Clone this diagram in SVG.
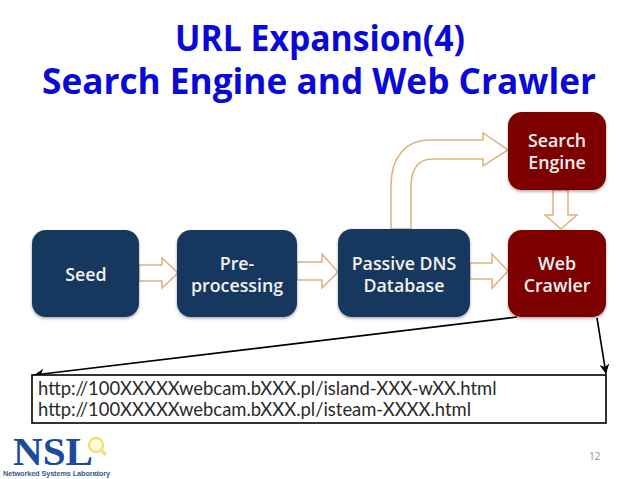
<svg xmlns="http://www.w3.org/2000/svg" width="638" height="479" viewBox="0 0 638 479">
<style>
.title{font:700 35px "Open Sans","Liberation Sans",sans-serif;fill:#0a0ad8;text-anchor:middle}
.lbl{font:600 17.8px "Open Sans","Liberation Sans",sans-serif;fill:#f4f0ee;text-anchor:middle}
.blue{fill:#17375e}
.red{fill:#7b0000}
.fat{fill:#fff;stroke:#e0b27c;stroke-width:1.5}
.wire{fill:none;stroke:#000;stroke-width:1.6}
.url{font:400 18.4px "Lato","Liberation Sans",sans-serif;fill:#2a2a2a}
</style>
<defs>
<filter id="sh" x="-10%" y="-10%" width="120%" height="125%"><feDropShadow dx="0" dy="1.5" stdDeviation="1.5" flood-color="#000" flood-opacity=".35"/></filter>
<marker id="ah" markerWidth="12" markerHeight="12" refX="10" refY="5" orient="auto" markerUnits="userSpaceOnUse"><path d="M0 0L10 5L0 10L3 5Z" fill="#000"/></marker>
</defs>
<rect width="638" height="479" fill="#fff"/>
<g id="title">
<text class="title" x="320" y="51" textLength="290" lengthAdjust="spacingAndGlyphs">URL Expansion(4)</text>
<text class="title" x="319" y="94" textLength="554" lengthAdjust="spacingAndGlyphs">Search Engine and Web Crawler</text>
</g>
<g id="connectors">
<path class="fat" d="M139 265H162V258L178 273L162 288V281H139Z"/>
<path class="fat" d="M297 262H322V254L338 272L322 288V280H297Z"/>
<path class="fat" d="M470 263H492V254L508 271L492 288V279H470Z"/>
<path class="fat" d="M553 190H568V215H577L561 229L545 215H553Z"/>
<path class="fat" d="M391 229V186C391 158 405 140 430 140H483V133L508 150L483 166V159H432C418 159 411 170 411 186V229Z"/>
<path class="wire" marker-end="url(#ah)" d="M517 317L34 375"/>
<path class="wire" marker-end="url(#ah)" d="M597 318L606 374"/>
</g>
<g id="seed"><rect class="blue" filter="url(#sh)" x="32" y="230" width="107" height="87" rx="14"/><text class="lbl" x="86" y="281">Seed</text></g>
<g id="preprocessing"><rect class="blue" filter="url(#sh)" x="177" y="230" width="120" height="87" rx="14"/><text class="lbl" x="237" y="270">Pre-</text><text class="lbl" x="237" y="292">processing</text></g>
<g id="passive-dns"><rect class="blue" filter="url(#sh)" x="338" y="229" width="132" height="88" rx="14"/><text class="lbl" x="404" y="270">Passive DNS</text><text class="lbl" x="404" y="292">Database</text></g>
<g id="web-crawler"><rect class="red" filter="url(#sh)" x="508" y="230" width="98" height="87" rx="14"/><text class="lbl" x="557" y="270">Web</text><text class="lbl" x="557" y="292">Crawler</text></g>
<g id="search-engine"><rect class="red" filter="url(#sh)" x="508" y="112" width="98" height="78" rx="14"/><text class="lbl" x="557" y="147">Search</text><text class="lbl" x="557" y="169">Engine</text></g>
<g id="urls"><rect x="32" y="375" width="574" height="48" fill="#fff" stroke="#000" stroke-width="1.6"/>
<text class="url" x="38" y="395">http://100XXXXXwebcam.bXXX.pl/island-XXX-wXX.html</text>
<text class="url" x="38" y="416">http://100XXXXXwebcam.bXXX.pl/isteam-XXXX.html</text></g>
<g id="logo">
<text x="13" y="465" font-family="Liberation Serif,serif" font-weight="700" font-size="40" fill="#1c4a9c" textLength="80" lengthAdjust="spacingAndGlyphs">NSL</text>
<circle cx="96" cy="445" r="7" fill="#fffbe0" stroke="#f2e27a" stroke-width="2.5"/>
<path d="M101 450L106 455" stroke="#f2e27a" stroke-width="3.5"/>
<text x="3" y="476" font-family="Liberation Sans,sans-serif" font-weight="700" font-size="7.4" fill="#3d5a8c" textLength="107">Networked Systems Laboratory</text>
</g>
<text id="page" x="589" y="460" font-family="Open Sans,Liberation Sans,sans-serif" font-size="10" fill="#8f8f8f">12</text>
</svg>
